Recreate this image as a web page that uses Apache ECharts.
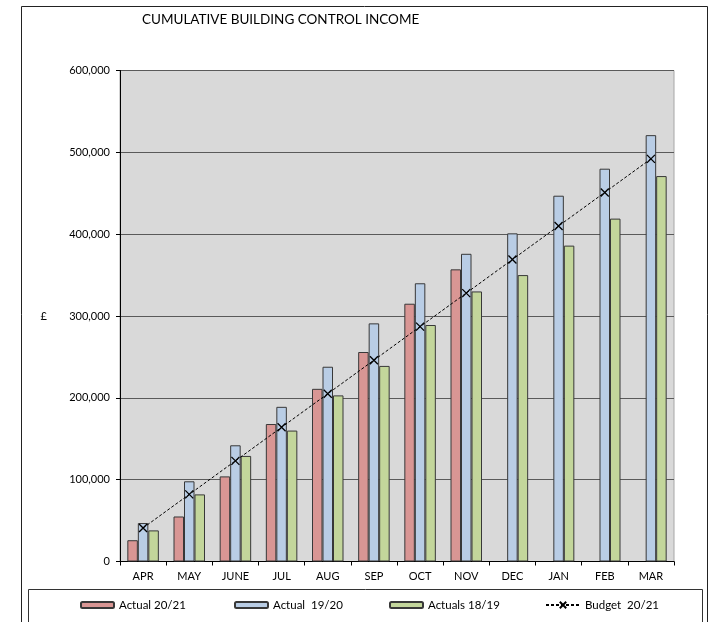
<!DOCTYPE html>
<html>
<head>
<meta charset="utf-8">
<script src="https://cdn.jsdelivr.net/npm/echarts@6/dist/echarts.min.js"></script>
<style>html,body{margin:0;padding:0;background:#fff;}#c{width:714px;height:622px;}</style>
</head>
<body>
<div id="c"></div>
<script>
var months = ['APR','MAY','JUNE','JUL','AUG','SEP','OCT','NOV','DEC','JAN','FEB','MAR'];
var actual2021 = [26000, 55000, 104000, 168000, 211000, 256000, 315000, 357000, null, null, null, null];
var actual1920 = [47000, 98000, 142000, 189000, 238000, 291000, 340000, 376000, 401000, 447000, 480000, 521000];
var actuals1819 = [38000, 82000, 129000, 160000, 203000, 239000, 289000, 330000, 350000, 386000, 419000, 471000];
var budget2021 = [41000, 82000, 123000, 164000, 205000, 246000, 287000, 328000, 369000, 410000, 451000, 492000];
var yTicks = [0, 100000, 200000, 300000, 400000, 500000, 600000];

var FONT = 'Lato';
var chart = echarts.init(document.getElementById('c'), null, {renderer: 'canvas'});
function fmt(v){ return v.toString().replace(/\B(?=(\d{3})+(?!\d))/g, ','); }
var legendCommon = {
  orient: 'horizontal', padding: 0, itemWidth: 33, itemHeight: 6, top: 599,
  textStyle: {fontFamily: FONT, fontSize: 11.5, color: '#000'}, selectedMode: false
};
var xSymbol = 'path://M0,0L10,10M10,0L0,10';
chart.setOption({
  animation: false,
  backgroundColor: '#fff',
  title: {
    text: 'CUMULATIVE BUILDING CONTROL INCOME', left: 142, top: 13, padding: 0,
    textStyle: {fontFamily: FONT, fontSize: 13.5, fontWeight: 'normal', color: '#000'}
  },
  grid: {
    left: 120, right: 40, top: 70.5, bottom: 60.5, show: true,
    backgroundColor: '#d9d9d9', borderColor: '#a6a6a6', borderWidth: 1
  },
  legend: [
    Object.assign({}, legendCommon, {left: 80, data: ['Actual 20/21']}),
    Object.assign({}, legendCommon, {left: 234, data: ['Actual  19/20']}),
    Object.assign({}, legendCommon, {left: 389, data: ['Actuals 18/19']}),
    Object.assign({}, legendCommon, {left: 545, itemWidth: 34, itemHeight: 8, data: ['Budget  20/21']})
  ],
  xAxis: {
    type: 'category', data: months,
    axisLine: {lineStyle: {color: '#000', width: 1}},
    axisTick: {show: true, length: 4, lineStyle: {color: '#000'}},
    axisLabel: {fontFamily: FONT, fontSize: 11, color: '#000', margin: 9}
  },
  yAxis: {
    type: 'value', min: yTicks[0], max: yTicks[yTicks.length-1], interval: 100000,
    name: '£', nameLocation: 'middle', nameRotate: 0, nameGap: 73,
    nameTextStyle: {fontFamily: FONT, fontSize: 11, color: '#000', padding: [0,0,10,0]},
    axisLine: {show: true, lineStyle: {color: '#000', width: 1}},
    axisTick: {show: true, length: 4, lineStyle: {color: '#000'}},
    axisLabel: {fontFamily: FONT, fontSize: 11, color: '#000', margin: 10, formatter: fmt},
    splitLine: {show: true, lineStyle: {color: '#5a5a5a', width: 1}}
  },
  series: [
    {name: 'Actual 20/21', type: 'bar', data: actual2021, barWidth: 10.5, barGap: '0%',
     itemStyle: {color: '#d99694', borderColor: '#383838', borderWidth: 1}},
    {name: 'Actual  19/20', type: 'bar', data: actual1920, barWidth: 10.5, barGap: '0%',
     itemStyle: {color: '#b9cde5', borderColor: '#383838', borderWidth: 1}},
    {name: 'Actuals 18/19', type: 'bar', data: actuals1819, barWidth: 10.5, barGap: '0%',
     itemStyle: {color: '#c3d69b', borderColor: '#383838', borderWidth: 1}},
    {name: 'Budget  20/21', type: 'line', data: budget2021, symbol: xSymbol, symbolSize: 8,
     showSymbol: true, z: 5,
     lineStyle: {color: '#000', width: 1, type: [3, 2]},
     itemStyle: {color: 'rgba(0,0,0,0)', borderColor: '#000', borderWidth: 1.3}}
  ],
  graphic: [
    {type: 'rect', silent: true, shape: {x: 21.5, y: 6.5, width: 686, height: 640},
     style: {fill: 'none', stroke: '#222', lineWidth: 1}, z: -1},
    {type: 'rect', silent: true, shape: {x: 28.5, y: 589.5, width: 674, height: 60},
     style: {fill: 'none', stroke: '#333', lineWidth: 1}, z: -1}
  ]
});
</script>
</body>
</html>
